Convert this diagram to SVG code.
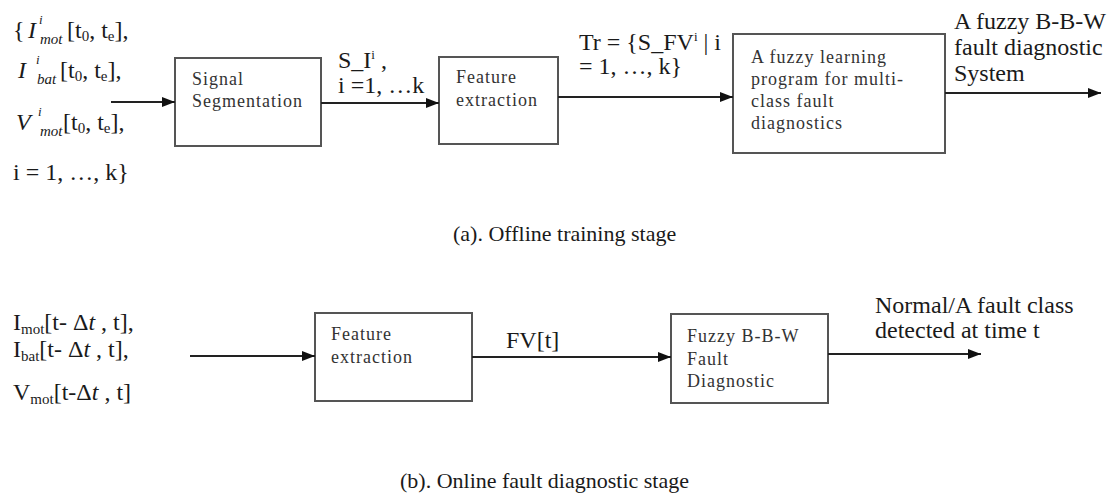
<svg xmlns="http://www.w3.org/2000/svg" width="1116" height="497" viewBox="0 0 1116 497">
  <style>
    .box { fill: #ffffff; stroke: #555555; stroke-width: 2; }
    .edge { fill: none; stroke: #222222; stroke-width: 2; }
    .inbox { font-family: "Liberation Serif", "Times New Roman", serif; font-size: 18px; letter-spacing: 1px; fill: #333333; }
    .lbl { font-family: "Liberation Serif", "Times New Roman", serif; font-size: 24px; fill: #1a1a1a; }
    .cap { font-family: "Liberation Serif", "Times New Roman", serif; font-size: 22px; fill: #1a1a1a; }
    .it { font-style: italic; }
    .sm { font-size: 13px; }
    .sub { font-size: 15px; }
  </style>
  <defs>
    <marker id="arrow" markerUnits="userSpaceOnUse" markerWidth="13" markerHeight="10" refX="13" refY="5" orient="auto">
      <path d="M0,0 L13,5 L0,10 z" fill="#111111"/>
    </marker>
  </defs>

  <rect width="1116" height="497" fill="#ffffff"/>

  <!-- (a) offline training stage -->
  <g id="offline-inputs" class="lbl">
    <text x="13" y="38">{</text>
    <text x="28" y="38" class="it">I</text>
    <text x="39" y="24" class="it sm">i</text>
    <text x="40" y="44" class="it sub">mot</text>
    <text x="67" y="38">[t<tspan class="sub" dy="3">0</tspan><tspan dy="-3">, t</tspan><tspan class="sub" dy="3">e</tspan><tspan dy="-3">],</tspan></text>

    <text x="18" y="78" class="it">I</text>
    <text x="36" y="64" class="it sm">i</text>
    <text x="37" y="84" class="it sub">bat</text>
    <text x="60" y="78">[t<tspan class="sub" dy="3">0</tspan><tspan dy="-3">, t</tspan><tspan class="sub" dy="3">e</tspan><tspan dy="-3">],</tspan></text>

    <text x="16" y="130" class="it">V</text>
    <text x="38" y="116" class="it sm">i</text>
    <text x="40" y="136" class="it sub">mot</text>
    <text x="63" y="130">[t<tspan class="sub" dy="3">0</tspan><tspan dy="-3">, t</tspan><tspan class="sub" dy="3">e</tspan><tspan dy="-3">],</tspan></text>

    <text x="13" y="180">i = 1, …, k}</text>
  </g>

  <g id="signal-segmentation">
    <rect class="box" x="175" y="58" width="146" height="88"/>
    <text class="inbox" x="192" y="85">Signal</text>
    <text class="inbox" x="192" y="107">Segmentation</text>
  </g>

  <g id="feature-extraction-a">
    <rect class="box" x="439" y="57" width="119" height="87"/>
    <text class="inbox" x="456" y="83">Feature</text>
    <text class="inbox" x="456" y="106">extraction</text>
  </g>

  <g id="fuzzy-learning">
    <rect class="box" x="733" y="34" width="212" height="119"/>
    <text class="inbox" x="751" y="63">A fuzzy learning</text>
    <text class="inbox" x="751" y="85">program for multi-</text>
    <text class="inbox" x="751" y="107">class fault</text>
    <text class="inbox" x="751" y="129">diagnostics</text>
  </g>

  <!-- (b) online fault diagnostic stage -->
  <g id="online-inputs" class="lbl">
    <text x="13" y="330">I<tspan class="sub" dy="4">mot</tspan><tspan dy="-4">[t- Δ</tspan><tspan class="it">t</tspan> , t],</text>
    <text x="13" y="357">I<tspan class="sub" dy="4">bat</tspan><tspan dy="-4">[t- Δ</tspan><tspan class="it">t</tspan> , t],</text>
    <text x="13" y="400">V<tspan class="sub" dy="4">mot</tspan><tspan dy="-4">[t-Δ</tspan><tspan class="it">t</tspan> , t]</text>
  </g>

  <g id="feature-extraction-b">
    <rect class="box" x="315" y="313" width="157" height="88"/>
    <text class="inbox" x="331" y="340">Feature</text>
    <text class="inbox" x="331" y="363">extraction</text>
  </g>

  <g id="fuzzy-bbw">
    <rect class="box" x="671" y="314" width="157" height="89"/>
    <text class="inbox" x="687" y="342">Fuzzy B-B-W</text>
    <text class="inbox" x="687" y="365">Fault</text>
    <text class="inbox" x="687" y="387">Diagnostic</text>
  </g>

  <!-- connectors -->
  <g id="connectors">
    <line class="edge" x1="111" y1="102" x2="175" y2="102" marker-end="url(#arrow)"/>
    <line class="edge" x1="321" y1="103" x2="439" y2="103" marker-end="url(#arrow)"/>
    <line class="edge" x1="558" y1="97" x2="733" y2="97" marker-end="url(#arrow)"/>
    <line class="edge" x1="945" y1="93" x2="1101" y2="93" marker-end="url(#arrow)"/>
    <line class="edge" x1="190" y1="356" x2="315" y2="356" marker-end="url(#arrow)"/>
    <line class="edge" x1="472" y1="357" x2="671" y2="357" marker-end="url(#arrow)"/>
    <line class="edge" x1="828" y1="354" x2="981" y2="354" marker-end="url(#arrow)"/>
  </g>

  <!-- connector labels -->
  <g id="edge-labels" class="lbl">
    <text x="338" y="68">S_I<tspan class="sm" dy="-9">i</tspan><tspan dy="9"> ,</tspan></text>
    <text x="338" y="93">i =1, …k</text>
    <text x="579" y="50">Tr = {S_FV<tspan class="sm" dy="-9">i</tspan><tspan dy="9"> | i</tspan></text>
    <text x="579" y="74">= 1, …, k}</text>
    <text x="954" y="29">A fuzzy B-B-W</text>
    <text x="954" y="55">fault diagnostic</text>
    <text x="954" y="81">System</text>
    <text x="506" y="348">FV[t]</text>
    <text x="875" y="313">Normal/A fault class</text>
    <text x="875" y="338">detected at time t</text>
  </g>

  <!-- stage captions -->
  <g id="captions" class="cap">
    <text x="453" y="241">(a). Offline training stage</text>
    <text x="400" y="488">(b). Online fault diagnostic stage</text>
  </g>
</svg>
